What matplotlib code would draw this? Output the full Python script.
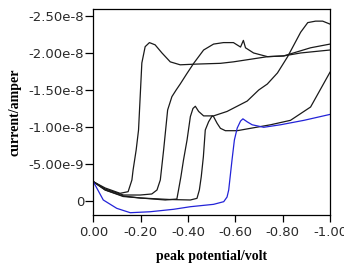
import matplotlib.pyplot as plt

# potentials (V) and currents (A)
x1 = [0.0, -0.050, -0.113, -0.147, -0.163, -0.168, -0.181, -0.191, -0.205, -0.219, -0.237,
      -0.261, -0.290, -0.325, -0.367, -0.438, -0.537, -0.592, -0.736, -0.804, -0.918, -1.0]
y1 = [-2.61e-9, -1.76e-9, -1.04e-9, -1.26e-9, -2.84e-9, -4.19e-9, -6.9e-9, -9.59e-9, -1.865e-8,
      -2.085e-8, -2.14e-8, -2.11e-8, -2.0e-8, -1.88e-8, -1.84e-8, -1.85e-8, -1.86e-8, -1.88e-8,
      -1.95e-8, -1.96e-8, -2.07e-8, -2.12e-8]

x2 = [0.0, -0.050, -0.127, -0.198, -0.247, -0.269, -0.283, -0.297, -0.314, -0.332, -0.350,
      -0.367, -0.395, -0.424, -0.466, -0.508, -0.550, -0.592, -0.622, -0.634, -0.643, -0.677,
      -0.736, -0.804, -0.876, -1.0]
y2 = [-2.61e-9, -1.62e-9, -0.81e-9, -0.81e-9, -0.95e-9, -1.49e-9, -2.84e-9, -6.89e-9, -1.23e-8,
      -1.41e-8, -1.50e-8, -1.58e-8, -1.72e-8, -1.86e-8, -2.04e-8, -2.12e-8, -2.14e-8, -2.14e-8,
      -2.08e-8, -2.17e-8, -2.07e-8, -2.0e-8, -1.95e-8, -1.96e-8, -2.0e-8, -2.04e-8]

x3 = [0.0, -0.050, -0.126, -0.198, -0.304, -0.353, -0.360, -0.370, -0.381, -0.396, -0.410,
      -0.421, -0.431, -0.445, -0.466, -0.508, -0.565, -0.650, -0.699, -0.735, -0.778, -0.821,
      -0.876, -0.906, -0.939, -0.969, -1.0]
y3 = [-2.61e-9, -1.49e-9, -0.68e-9, -0.41e-9, -0.14e-9, -0.27e-9, -1.49e-9, -3.28e-9, -5.54e-9,
      -8.24e-9, -1.14e-8, -1.25e-8, -1.28e-8, -1.21e-8, -1.15e-8, -1.15e-8, -1.21e-8, -1.35e-8,
      -1.50e-8, -1.58e-8, -1.73e-8, -1.95e-8, -2.28e-8, -2.41e-8, -2.43e-8, -2.43e-8, -2.39e-8]

x4 = [0.0, -0.050, -0.126, -0.198, -0.325, -0.410, -0.438, -0.448, -0.456, -0.465, -0.473,
      -0.487, -0.502, -0.508, -0.523, -0.537, -0.558, -0.608, -0.664, -0.749, -0.833, -0.918, -1.0]
y4 = [-2.61e-9, -1.49e-9, -0.61e-9, -0.41e-9, -0.2e-9, -0.14e-9, -0.36e-9, -1.49e-9, -3.28e-9,
      -5.99e-9, -9.59e-9, -1.07e-8, -1.15e-8, -1.14e-8, -1.05e-8, -9.82e-9, -9.5e-9, -9.5e-9,
      -9.82e-9, -1.03e-8, -1.09e-8, -1.27e-8, -1.74e-8]

x5 = [0.0, -0.042, -0.099, -0.156, -0.240, -0.339, -0.410, -0.508, -0.551, -0.565, -0.572,
      -0.586, -0.596, -0.608, -0.622, -0.632, -0.650, -0.671, -0.720, -0.791, -0.890, -1.0]
y5 = [-2.61e-9, -0.14e-9, 0.99e-9, 1.58e-9, 1.45e-9, 1.12e-9, 0.77e-9, 0.45e-9, 0.09e-9,
      -0.54e-9, -1.49e-9, -5.54e-9, -8.24e-9, -9.86e-9, -1.08e-8, -1.11e-8, -1.07e-8, -1.03e-8,
      -9.96e-9, -1.03e-8, -1.09e-8, -1.17e-8]

yticks = [-2.5e-8, -2.0e-8, -1.5e-8, -1.0e-8, -5.0e-9, 0.0]
ylabels = ['-2.50e-8', '-2.00e-8', '-1.50e-8', '-1.00e-8', '-5.00e-9', '0']
xticks = [0.0, -0.2, -0.4, -0.6, -0.8, -1.0]
xlabels = ['0.00', '-0.20', '-0.40', '-0.60', '-0.80', '-1.00']

fig = plt.figure(figsize=(3.44, 2.64), dpi=100)
ax = fig.add_axes([0.2713, 0.1856, 0.688, 0.7792])

for xs, ys in [(x1, y1), (x2, y2), (x3, y3), (x4, y4)]:
    ax.plot(xs, ys, color='#1a1a1a', lw=0.9)
ax.plot(x5, y5, color='#2323d8', lw=0.9)

ax.set_xlim(0, -1.0)
ax.set_ylim(1.89e-9, -2.59e-8)
ax.set_yticks(yticks)
ax.set_yticklabels(ylabels)
ax.set_xticks(xticks)
ax.set_xticklabels(xlabels)
ax.tick_params(axis='y', length=6, width=0.9, pad=0.5, labelsize=9.5, labelcolor='#2a2a2a')
ax.tick_params(axis='x', length=5, width=0.9, pad=3, labelsize=9.5, labelcolor='#2a2a2a')
for s in ax.spines.values():
    s.set_linewidth(0.9)

ax.set_xlabel('peak potential/volt', family='Liberation Serif', fontweight='bold',
              fontsize=10, labelpad=8)
ax.set_ylabel('current/amper', family='Liberation Serif', fontweight='bold',
              fontsize=10, labelpad=5)

fig.savefig('out.png', dpi=100)
